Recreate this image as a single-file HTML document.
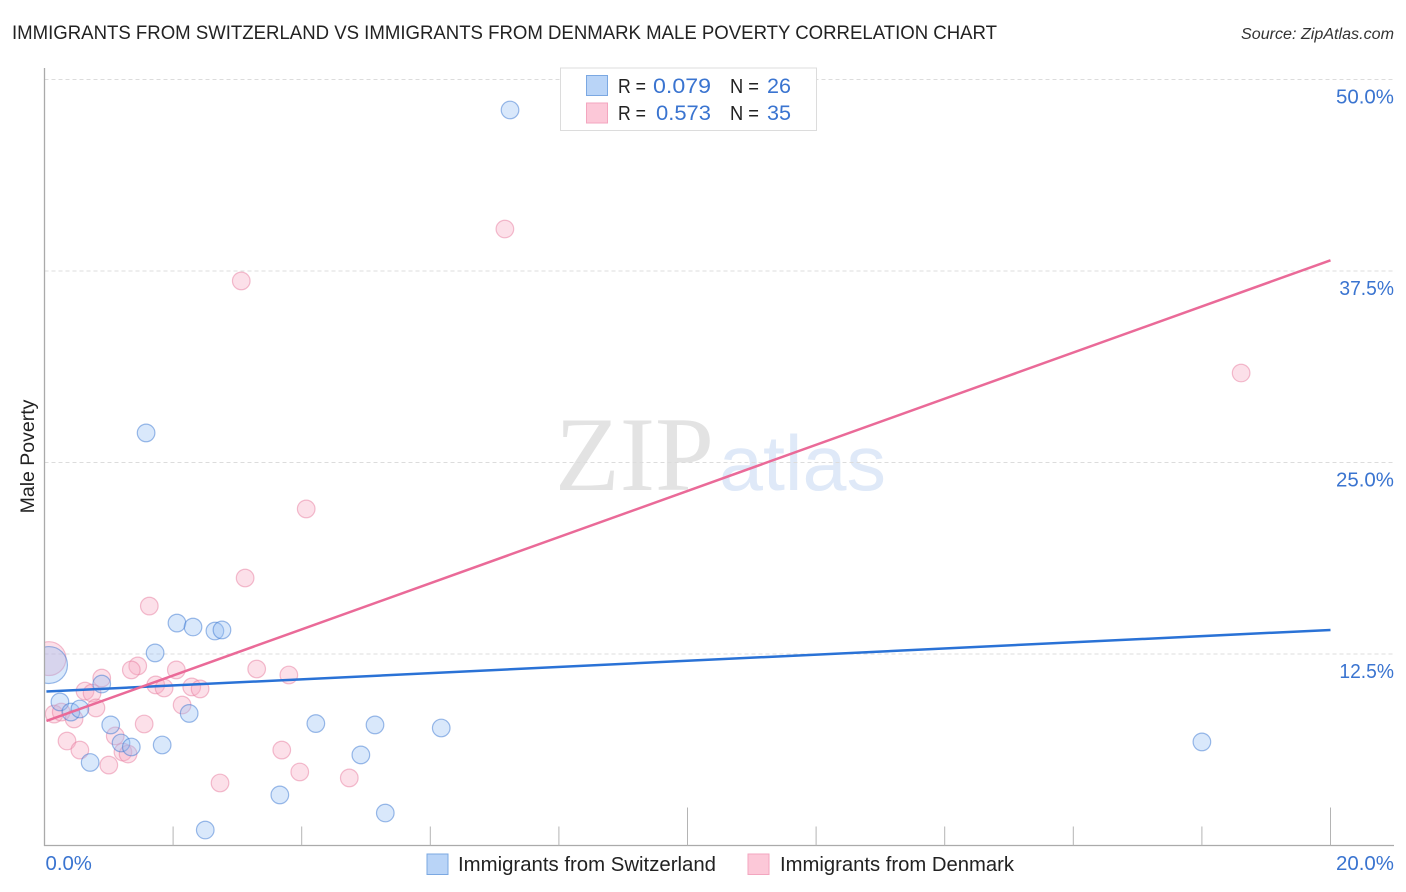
<!DOCTYPE html>
<html lang="en">
<head>
<meta charset="utf-8">
<title>Immigrants from Switzerland vs Immigrants from Denmark Male Poverty Correlation Chart</title>
<style>
html,body{margin:0;padding:0;background:#fff;width:1406px;height:892px;overflow:hidden}
svg{display:block;font-family:"Liberation Sans",sans-serif}
</style>
</head>
<body>
<svg id="chart" xmlns="http://www.w3.org/2000/svg" width="1406" height="892" viewBox="0 0 1406 892">
  <rect x="0" y="0" width="1406" height="892" fill="#ffffff"/>
  <text x="12" y="39" font-size="19" fill="#222" textLength="985" lengthAdjust="spacingAndGlyphs">IMMIGRANTS FROM SWITZERLAND VS IMMIGRANTS FROM DENMARK MALE POVERTY CORRELATION CHART</text>
  <text x="1241" y="39" font-size="15.5" font-style="italic" fill="#333" textLength="153" lengthAdjust="spacingAndGlyphs">Source: ZipAtlas.com</text>
  <g>
    <text x="555" y="490" font-family="'Liberation Serif',serif" font-size="106" fill="#e3e3e3" textLength="159" lengthAdjust="spacingAndGlyphs">ZIP</text>
    <text x="719" y="490" font-size="78" fill="#dfe9f8" textLength="167" lengthAdjust="spacingAndGlyphs">atlas</text>
  </g>
  <g id="grid"></g>
  <defs>
    <clipPath id="plot-clip"><rect x="44.5" y="60" width="1350" height="786"/></clipPath>
  </defs>
  <g id="points" clip-path="url(#plot-clip)"></g>
  <rect x="0" y="620" width="44" height="90" fill="#ffffff"/>
  <g id="axes"></g>
  <g id="trends"></g>
  <g id="ylabels"></g>
  <g id="xlabels"></g>
  <text transform="translate(34 456.5) rotate(-90)" font-size="19.5" fill="#222" text-anchor="middle">Male Poverty</text>

  <g>
    <rect x="560.5" y="68" width="256" height="62.5" fill="#fff" stroke="#dcdcdc" stroke-width="1"/>
    <rect x="586.5" y="75.5" width="21" height="20" fill="#b9d4f7" stroke="#7ba8e2" stroke-width="1"/>
    <text x="618" y="93" font-size="20" fill="#222" textLength="28" lengthAdjust="spacingAndGlyphs">R =</text>
    <text x="653" y="93" font-size="21" fill="#3a74d0" textLength="58" lengthAdjust="spacingAndGlyphs">0.079</text>
    <text x="730" y="93" font-size="20" fill="#222" textLength="29" lengthAdjust="spacingAndGlyphs">N =</text>
    <text x="767" y="93" font-size="21" fill="#3a74d0" textLength="24" lengthAdjust="spacingAndGlyphs">26</text>
    <rect x="586.5" y="103" width="21" height="20" fill="#fcc8d8" stroke="#f3a6bf" stroke-width="1"/>
    <text x="618" y="120" font-size="20" fill="#222" textLength="28" lengthAdjust="spacingAndGlyphs">R =</text>
    <text x="656" y="120" font-size="21" fill="#3a74d0" textLength="55" lengthAdjust="spacingAndGlyphs">0.573</text>
    <text x="730" y="120" font-size="20" fill="#222" textLength="29" lengthAdjust="spacingAndGlyphs">N =</text>
    <text x="767" y="120" font-size="21" fill="#3a74d0" textLength="24" lengthAdjust="spacingAndGlyphs">35</text>
  </g>

  <g>
    <rect x="427" y="854" width="21" height="20.5" fill="#b9d4f7" stroke="#7ba8e2" stroke-width="1"/>
    <text x="458" y="871" font-size="20" fill="#222" textLength="258" lengthAdjust="spacingAndGlyphs">Immigrants from Switzerland</text>
    <rect x="748" y="854" width="21" height="20.5" fill="#fcc8d8" stroke="#f3a6bf" stroke-width="1"/>
    <text x="780" y="871" font-size="20" fill="#222" textLength="234" lengthAdjust="spacingAndGlyphs">Immigrants from Denmark</text>
  </g>
</svg>
<script>
const yTickValues = [50, 37.5, 25, 12.5];
const yTickLabels = ["50.0%", "37.5%", "25.0%", "12.5%"];
const xTickValues = [0, 2, 4, 6, 8, 10, 12, 14, 16, 18, 20];
const xMajorTicks = [0, 10, 20];
const xEndValues = [0, 20];
const xEndLabels = ["0.0%", "20.0%"];

const switzerlandX = [7.24, 1.58, 2.06, 2.31, 2.65, 2.76, 1.72, 0.89, 0.24, 0.41, 0.55, 1.03, 1.19, 1.35, 1.83, 2.25, 0.71, 4.22, 5.14, 6.17, 4.92, 3.66, 5.30, 2.50, 18.0, 0.07];
const switzerlandY = [48.01, 26.93, 14.52, 14.26, 14.00, 14.07, 12.57, 10.54, 9.37, 8.71, 8.91, 7.87, 6.69, 6.43, 6.56, 8.62, 5.42, 7.96, 7.87, 7.67, 5.91, 3.30, 2.12, 1.01, 6.76, 11.78];
const switzerlandWeight = [1, 1, 1, 1, 1, 1, 1, 1, 1, 1, 1, 1, 1, 1, 1, 1, 1, 1, 1, 1, 1, 1, 1, 1, 1, 4.4];

const denmarkX = [7.16, 3.06, 18.61, 4.07, 3.12, 1.63, 1.45, 1.35, 2.05, 3.30, 3.80, 0.89, 0.63, 0.74, 1.73, 1.86, 2.29, 2.42, 2.14, 0.80, 0.15, 0.26, 0.46, 1.55, 0.35, 0.55, 1.10, 1.22, 1.30, 1.00, 2.73, 3.69, 3.97, 4.74, 0.07];
const denmarkY = [40.24, 36.85, 30.84, 21.97, 17.46, 15.63, 11.72, 11.46, 11.46, 11.52, 11.13, 10.93, 10.08, 9.95, 10.48, 10.28, 10.35, 10.22, 9.17, 8.98, 8.58, 8.71, 8.26, 7.93, 6.82, 6.23, 7.15, 6.10, 5.97, 5.25, 4.08, 6.23, 4.80, 4.41, 12.2];
const denmarkWeight = [1, 1, 1, 1, 1, 1, 1, 1, 1, 1, 1, 1, 1, 1, 1, 1, 1, 1, 1, 1, 1, 1, 1, 1, 1, 1, 1, 1, 1, 1, 1, 1, 1, 1, 3.7];

const switzerlandTrendX = [0.03, 20];
const switzerlandTrendY = [10.05, 14.07];
const denmarkTrendX = [0.03, 20];
const denmarkTrendY = [8.13, 38.2];

const NS = "http://www.w3.org/2000/svg";
function xScale(v) { return 44.5 + v * 64.3; }
function yScale(v) { return 845.5 - v * 15.32; }
function rScale(w) { return 8.8 * Math.sqrt(w); }
/* the reference face has a narrow "1" and "7", so those labels run shorter */
function labelWidth(label) {
  const narrow = (label.match(/[17]/g) || []).length;
  return label.length * 11.6 - narrow * 3.4;
}
function make(tag, attrs, parent) {
  const el = document.createElementNS(NS, tag);
  for (const k in attrs) el.setAttribute(k, attrs[k]);
  parent.appendChild(el);
  return el;
}

const grid = document.getElementById("grid");
const axes = document.getElementById("axes");
const points = document.getElementById("points");
const trends = document.getElementById("trends");
const ylabels = document.getElementById("ylabels");
const xlabels = document.getElementById("xlabels");

yTickValues.forEach(function (v, i) {
  const line = make("line", { x1: 44.5, x2: 1394, y1: yScale(v), y2: yScale(v), stroke: "#dcdcdc", "stroke-width": 1, "stroke-dasharray": "4 3" }, grid);
  
  
  const label = make("text", { x: 1394, y: yScale(v) + 24, "font-size": 20, fill: "#3a74d0", "text-anchor": "end", textLength: labelWidth(yTickLabels[i]), lengthAdjust: "spacingAndGlyphs" }, ylabels);
  label.textContent = yTickLabels[i];
  
  
});

const yAxis = make("line", { x1: 44.5, x2: 44.5, y1: 68, y2: 846, stroke: "#aaaaaa", "stroke-width": 1.3 }, axes);


const xAxis = make("line", { x1: 44, x2: 1394, y1: 845.5, y2: 845.5, stroke: "#aaaaaa", "stroke-width": 1.3 }, axes);



xTickValues.forEach(function (v) {
  if (v === 0) return;
  const len = xMajorTicks.indexOf(v) >= 0 ? 38 : 19;
  const tick = make("line", { x1: xScale(v), x2: xScale(v), y1: 845.5 - len, y2: 845.5, stroke: "#b4b4b4", "stroke-width": 1 }, axes);
  
  
});

xEndValues.forEach(function (v, i) {
  const label = make("text", { x: i === 0 ? xScale(v) + 1 : 1394, y: 870, "font-size": 20, fill: "#3a74d0", "text-anchor": i === 0 ? "start" : "end", textLength: labelWidth(xEndLabels[i]), lengthAdjust: "spacingAndGlyphs" }, xlabels);
  label.textContent = xEndLabels[i];
  
  
});

denmarkX.forEach(function (v, i) {
  const c = make("circle", { cx: xScale(v), cy: yScale(denmarkY[i]), r: rScale(denmarkWeight[i]), fill: "rgba(247,170,195,0.36)", stroke: "rgba(232,125,160,0.5)", "stroke-width": 1.2 }, points);
  
  
});

switzerlandX.forEach(function (v, i) {
  const c = make("circle", { cx: xScale(v), cy: yScale(switzerlandY[i]), r: rScale(switzerlandWeight[i]), fill: "rgba(150,192,245,0.36)", stroke: "rgba(60,120,210,0.5)", "stroke-width": 1.2 }, points);
  
  
});

const blueTrend = make("line", { x1: xScale(switzerlandTrendX[0]), y1: yScale(switzerlandTrendY[0]), x2: xScale(switzerlandTrendX[1]), y2: yScale(switzerlandTrendY[1]), stroke: "#2a72d6", "stroke-width": 2.5 }, trends);


const pinkTrend = make("line", { x1: xScale(denmarkTrendX[0]), y1: yScale(denmarkTrendY[0]), x2: xScale(denmarkTrendX[1]), y2: yScale(denmarkTrendY[1]), stroke: "#ea6a98", "stroke-width": 2.5 }, trends);


</script>
</body>
</html>
